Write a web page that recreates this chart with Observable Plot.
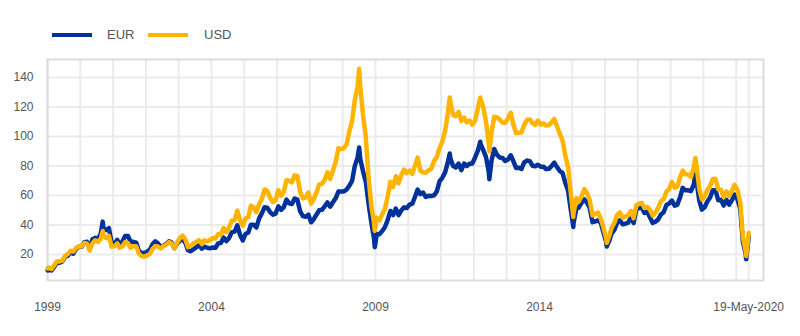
<!DOCTYPE html>
<html>
<head>
<meta charset="utf-8">
<script src="https://cdn.jsdelivr.net/npm/d3@7"></script>
<script src="https://cdn.jsdelivr.net/npm/@observablehq/plot@0.6"></script>
<style>
  html, body { margin: 0; padding: 0; background: #fff; }
  #wrap { position: relative; width: 800px; height: 336px; font-family: "Liberation Sans", Arial, sans-serif; }
  #legend { position: absolute; left: 0; top: 0; width: 800px; height: 50px; }
  .sw { position: absolute; top: 33px; height: 4px; width: 40px; }
  .lt { position: absolute; top: 27px; font-size: 13px; color: #555; line-height: 16px; }
  #chart { position: absolute; left: 0; top: 0; }
</style>
</head>
<body>
<div id="wrap">
  <div id="chart"></div>
  <div id="legend"></div>
</div>
<script>
// Series names and colours
const seriesNames = ["EUR", "USD"];
const seriesColors = ["#003299", "#FFB400"];

// Monthly Brent crude oil price (mid-month), Jan 1999 – Apr 2020
const usdMonthly = [
  11.1,10.3,12.5,15.3,15.3,15.9,19.1,20.3,22.5,22.0,24.6,25.5,
  25.5,27.8,27.5,22.8,27.6,29.7,28.6,30.5,32.9,31.1,32.6,25.3,
  25.6,27.5,24.5,25.6,28.4,27.7,24.5,25.7,25.6,20.5,18.9,18.6,
  19.4,20.3,23.7,25.7,25.4,24.1,25.7,26.6,28.4,27.5,24.3,28.0,
  31.2,32.8,30.3,25.0,25.8,27.6,28.4,29.8,27.1,29.6,28.8,29.8,
  31.2,30.9,33.8,33.4,37.9,35.2,38.4,43.0,43.4,49.8,43.1,39.6,
  44.5,45.5,53.1,51.9,48.7,54.3,57.5,64.1,62.9,58.5,55.5,56.8,
  63.6,59.9,62.3,70.4,70.0,68.9,73.7,73.2,62.5,58.1,58.8,62.0,
  54.5,57.8,62.1,67.5,67.9,70.6,75.8,71.2,77.0,82.5,92.1,91.5,
  92.2,94.8,103.3,110.4,124.6,133.5,134.0,114.6,99.6,72.7,53.2,41.6,
  44.9,43.2,47.0,50.8,58.6,69.3,65.8,73.1,68.2,73.9,77.5,75.2,
  76.9,74.7,79.9,85.7,76.9,75.7,75.5,77.1,78.2,83.5,86.1,92.0,
  96.5,103.7,114.6,123.3,114.5,113.8,116.7,110.4,112.8,109.6,110.8,107.9,
  110.7,119.3,125.5,119.8,110.3,95.2,102.6,113.4,113.0,111.5,109.5,109.2,
  112.3,116.1,108.5,102.3,102.6,102.9,107.9,111.3,111.6,109.1,107.8,110.8,
  108.1,108.9,107.5,107.8,109.5,111.9,107.0,101.9,97.3,87.3,79.4,62.3,
  47.8,58.1,55.9,59.5,64.3,61.7,56.8,46.5,47.6,48.4,44.3,38.0,
  30.7,32.2,38.2,41.6,46.9,48.5,44.9,45.8,46.6,49.5,44.7,53.3,
  54.6,54.9,51.6,52.3,50.3,46.4,48.5,51.7,56.2,57.5,62.7,64.4,
  69.1,65.3,66.0,72.1,76.9,74.4,74.3,72.5,78.9,81.0,64.8,57.4,
  59.4,64.0,66.1,71.2,71.3,64.2,63.9,59.0,62.8,59.7,63.2,67.3,
  63.7,55.5,32.0,22.5
];
const eurMonthly = [
  9.6,9.2,11.5,14.3,14.4,15.3,18.4,19.2,21.4,20.6,23.9,25.2,
  25.2,28.4,28.6,24.3,30.3,31.3,30.4,33.9,37.8,36.6,37.9,28.1,
  27.2,29.9,26.9,28.8,32.6,32.6,28.5,28.6,28.1,22.5,21.2,20.9,
  22.0,23.3,26.9,28.9,27.6,25.1,26.0,27.1,29.0,28.1,24.3,27.5,
  29.4,30.4,28.1,22.9,22.2,23.6,24.9,26.8,24.0,25.3,24.6,24.2,
  24.8,24.5,27.5,27.8,31.6,29.1,31.2,35.2,35.6,39.8,33.2,29.6,
  34.0,35.0,40.2,40.2,38.3,44.5,47.9,52.1,51.6,48.8,47.0,47.7,
  52.6,50.3,51.9,57.2,54.7,54.3,58.0,57.2,49.2,46.1,45.6,47.0,
  41.9,44.1,47.0,50.0,50.3,52.7,55.3,52.4,55.4,58.1,62.7,62.7,
  62.7,64.1,66.6,69.9,79.9,85.6,84.8,76.4,69.2,54.7,41.9,31.0,
  34.0,33.8,35.9,38.5,43.1,49.5,46.7,51.1,46.7,49.9,52.0,51.5,
  53.8,54.5,58.8,64.0,61.0,62.0,59.0,59.8,59.7,60.1,62.8,69.7,
  72.0,75.7,81.9,85.0,80.1,79.0,81.6,77.2,81.7,80.0,81.5,81.7,
  85.8,90.4,95.1,90.8,86.2,76.2,83.4,91.5,87.6,85.8,85.5,83.4,
  84.4,87.3,83.5,78.7,78.9,78.0,82.4,83.7,83.3,80.2,79.9,80.9,
  79.5,79.5,77.9,78.1,79.9,82.3,79.3,76.6,75.4,68.7,63.5,50.7,
  41.2,51.0,51.8,55.1,57.4,55.1,51.6,41.9,42.5,43.2,41.4,34.9,
  28.2,29.0,34.4,36.8,41.5,43.3,40.5,40.9,41.6,45.0,41.4,50.8,
  51.5,51.8,48.2,48.9,45.3,41.4,42.2,43.8,47.2,48.7,53.6,54.6,
  56.6,53.1,53.7,58.6,65.2,63.6,63.5,63.0,67.4,70.4,56.8,50.4,
  52.1,56.1,58.5,63.6,63.7,56.8,57.1,53.2,57.1,53.8,56.9,60.6,
  57.4,50.9,28.8,20.6
];

// Notable daily observations (peaks, troughs, first and last day)
const extraDates = ["1999-01-04","2000-09-07","2008-07-03","2008-12-24","2011-04-08","2012-03-13","2012-06-22","2015-01-13","2016-01-20","2018-10-03","2020-04-21","2020-05-19"];
const extraUsd   = [10.6, 36.0, 146.0, 36.0, 126.5, 126.5, 90.0, 45.5, 27.9, 85.5, 19.0, 34.6];
const extraEur   = [9.2, 42.3, 92.5, 25.0, 88.5, 96.5, 71.0, 38.7, 25.4, 74.5, 16.8, 31.7];

// Axis ticks
const yTicks = [20, 40, 60, 80, 100, 120, 140];
const xTickDates = ["1999-01-01", "2004-01-01", "2009-01-01", "2014-01-01", "2020-05-19"];
const xTickLabels = ["1999", "2004", "2009", "2014", "19-May-2020"];
const gridYears = d3.range(1999, 2021);

// ---- build table ----
const monthDates = d3.utcMonth.range(new Date(Date.UTC(1999, 0, 1)), new Date(Date.UTC(2020, 4, 1)))
  .map(d => new Date(Date.UTC(d.getUTCFullYear(), d.getUTCMonth(), 15)));
const rows = [];
monthDates.forEach((d, i) => {
  rows.push({date: d, series: "EUR", value: eurMonthly[i]});
  rows.push({date: d, series: "USD", value: usdMonthly[i]});
});
extraDates.forEach((s, i) => {
  const d = new Date(s + "T00:00:00Z");
  rows.push({date: d, series: "EUR", value: extraEur[i]});
  rows.push({date: d, series: "USD", value: extraUsd[i]});
});
rows.sort((a, b) => a.date - b.date);
const eurRows = rows.filter(r => r.series === "EUR");
const usdRows = rows.filter(r => r.series === "USD");

const tickDates = xTickDates.map(s => new Date(s + "T00:00:00Z"));
const labelMap = new Map(tickDates.map((d, i) => [+d, xTickLabels[i]]));
const gridX = gridYears.map(y => new Date(Date.UTC(y, 0, 1))).concat([tickDates[4]]);

const chart = Plot.plot({
  width: 800,
  height: 336,
  marginTop: 59,
  marginBottom: 56,
  marginLeft: 47,
  marginRight: 37,
  style: {fontFamily: '"Liberation Sans", Arial, sans-serif', fontSize: "12px", color: "#555", background: "transparent"},
  x: {type: "utc", domain: [new Date(Date.UTC(1999, 0, 1)), new Date(Date.UTC(2020, 9, 31))]},
  y: {domain: [2.4, 152.2]},
  marks: [
    Plot.ruleY(yTicks, {stroke: "#ebebeb", strokeWidth: 2}),
    Plot.ruleX(gridX, {stroke: "#ebebeb", strokeWidth: 2}),
    Plot.frame({stroke: "#dcdcdc", strokeWidth: 2}),
    Plot.lineY(eurRows, {x: "date", y: "value", stroke: seriesColors[0], strokeWidth: 4.5, strokeLinejoin: "round"}),
    Plot.lineY(usdRows, {x: "date", y: "value", stroke: seriesColors[1], strokeWidth: 4.5, strokeLinejoin: "round"}),
    Plot.axisX(tickDates, {tickSize: 0, tickPadding: 22, tickFormat: d => labelMap.get(+d), fill: "#555", fontSize: 12, label: null}),
    Plot.axisY(yTicks, {tickSize: 0, tickPadding: 14, fill: "#555", fontSize: 12, label: null})
  ]
});
document.getElementById("chart").appendChild(chart);

// ---- legend ----
const legend = document.getElementById("legend");
const swX = [52, 148], txX = [107, 204];
seriesNames.forEach((name, i) => {
  const sw = document.createElement("div");
  sw.className = "sw";
  sw.style.left = swX[i] + "px";
  sw.style.background = seriesColors[i];
  legend.appendChild(sw);
  const t = document.createElement("div");
  t.className = "lt";
  t.style.left = txX[i] + "px";
  t.textContent = name;
  legend.appendChild(t);
});
</script>
</body>
</html>
